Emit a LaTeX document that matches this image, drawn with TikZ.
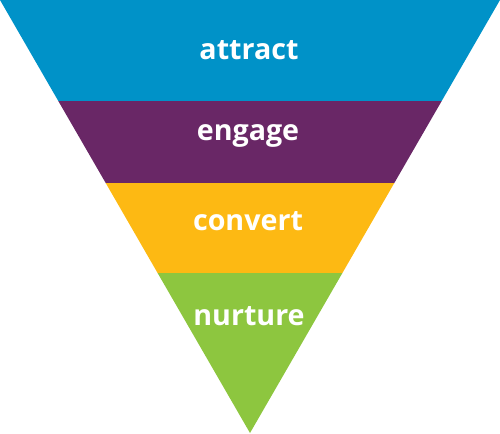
\documentclass[tikz,border=0pt]{standalone}
\usepackage{fontspec}
\setmainfont{Open Sans}
\usepackage{xcolor}
\usetikzlibrary{calc}
\definecolor{attractBlue}{HTML}{0092C8}
\definecolor{engagePurple}{HTML}{692766}
\definecolor{convertYellow}{HTML}{FDB913}
\definecolor{nurtureGreen}{HTML}{8DC63F}
\tikzset{
  stagelabel/.style={text=white,font=\bfseries\fontsize{16.3}{19}\selectfont,inner sep=0pt}
}

\begin{document}
\begin{tikzpicture}[x=0.02cm,y=-0.02cm]
    \useasboundingbox (0,0) rectangle (500,433);
    % funnel bands, sides at 60 degrees
    \fill[attractBlue] (0,0)--(500,0)--(441.7,101)--(58.3,101)--cycle;
    \fill[engagePurple] (58.3,101)--(441.7,101)--(394.3,183)--(105.7,183)--cycle;
    \fill[convertYellow] (105.7,183)--(394.3,183)--(342.4,273)--(157.6,273)--cycle;
    \fill[nurtureGreen] (157.6,273)--(342.4,273)--(250,433)--cycle;
    \node[stagelabel] (attract) at (249,50) {attract};
    \node[stagelabel] (engage) at (248,136) {engage};
    \node[stagelabel] (convert) at (248,221) {convert};
    \node[stagelabel] (nurture) at (249,316) {nurture};
  \end{tikzpicture}
\end{document}
